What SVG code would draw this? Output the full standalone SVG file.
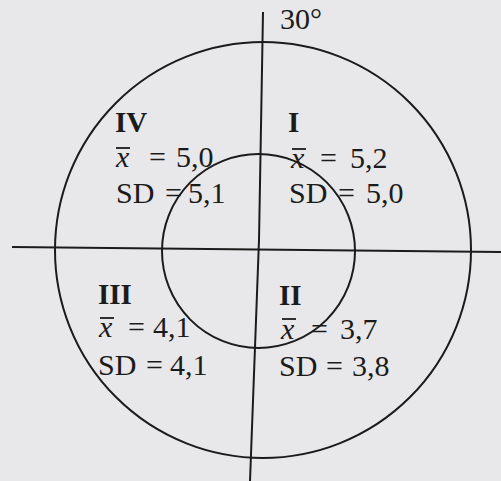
<svg xmlns="http://www.w3.org/2000/svg" width="501" height="481" viewBox="0 0 501 481">
<style>
.ln{fill:none;stroke:#1b1b1b;stroke-width:2}
.t{font-family:"Liberation Serif","Times New Roman",serif;font-size:30px;fill:#1b1b1b}
.b{font-weight:bold;font-size:29px}
.i{font-style:italic}
.bar{stroke:#1b1b1b;stroke-width:1.8}
</style>
<rect width="501" height="481" fill="#e8e8ea"/>
<g id="connectors">
<ellipse class="ln" cx="263" cy="250" rx="208" ry="208"/>
<ellipse class="ln" cx="258.5" cy="251" rx="96.5" ry="97"/>
<polyline class="ln" points="263,12 259,240 250,481"/>
<line class="ln" x1="12" y1="247" x2="501" y2="252"/>
</g>
<g id="angle"><text class="t" x="280" y="29" font-size="22">30°</text></g>
<g id="q4">
<text class="t b" x="115" y="132">IV</text>
<text class="t" y="167"><tspan class="i" x="116">x</tspan><tspan x="149">=</tspan><tspan x="176">5,0</tspan></text>
<line class="bar" x1="116" y1="148" x2="130" y2="148"/>
<text class="t" y="203"><tspan x="116">SD</tspan><tspan x="165">=</tspan><tspan x="188">5,1</tspan></text>
</g>
<g id="q1">
<text class="t b" x="288" y="132">I</text>
<text class="t" y="168"><tspan class="i" x="291">x</tspan><tspan x="320">=</tspan><tspan x="350">5,2</tspan></text>
<line class="bar" x1="292" y1="149" x2="306" y2="149"/>
<text class="t" y="203"><tspan x="289">SD</tspan><tspan x="338">=</tspan><tspan x="366">5,0</tspan></text>
</g>
<g id="q3">
<text class="t b" x="98" y="304">III</text>
<text class="t" y="337"><tspan class="i" x="99">x</tspan><tspan x="128">=</tspan><tspan x="153">4,1</tspan></text>
<line class="bar" x1="100" y1="318" x2="114" y2="318"/>
<text class="t" y="375"><tspan x="98">SD</tspan><tspan x="146">=</tspan><tspan x="170">4,1</tspan></text>
</g>
<g id="q2">
<text class="t b" x="279" y="305">II</text>
<text class="t" y="339"><tspan class="i" x="281">x</tspan><tspan x="311">=</tspan><tspan x="340">3,7</tspan></text>
<line class="bar" x1="282" y1="319" x2="296" y2="319"/>
<text class="t" y="376"><tspan x="279">SD</tspan><tspan x="326">=</tspan><tspan x="352">3,8</tspan></text>
</g>
</svg>
